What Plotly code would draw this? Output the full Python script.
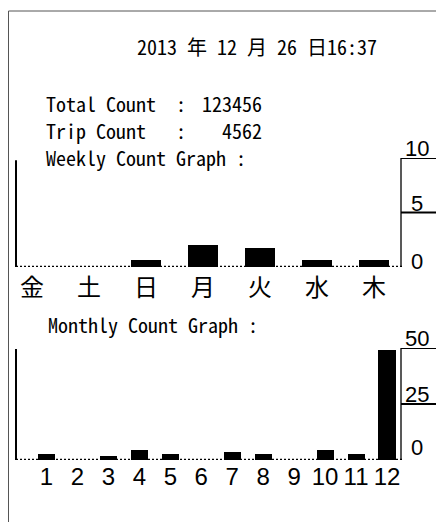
import plotly.graph_objects as go

# ---- data ----
weekdays = ["金", "土", "日", "月", "火", "水", "木"]
weekly_counts = [0, 0, 0.6, 2.0, 1.7, 0.6, 0.6]
weekly_ticks = [10, 5, 0]

months = list(range(1, 13))
month_labels = [str(m) for m in months]
monthly_counts = [2.7, 0, 1.8, 4.5, 2.7, 0, 3.6, 2.7, 0, 4.5, 2.7, 49]
monthly_ticks = [50, 25, 0]

header_date = "2013 年 12 月 26 日16:37"
info_lines = [
    ("Total Count  :", "123456"),
    ("Trip Count   :", "4562"),
]
weekly_title = "Weekly Count Graph :"
monthly_title = "Monthly Count Graph :"

# ---- page geometry (pixels) ----
W, H = 436, 522


def px(x):
    return x / W


def py(y):
    return 1 - y / H


MONO = "Noto Sans Mono CJK JP, DejaVu Sans Mono, monospace"
CJK = "Noto Sans CJK JP, sans-serif"
SANS = "Liberation Sans, Arial, sans-serif"

AX_L, AX_R = 16, 401

fig = go.Figure()
fig.add_trace(go.Bar(x=weekdays, y=weekly_counts, width=0.526,
                     marker=dict(color="black", line=dict(width=0)),
                     xaxis="x", yaxis="y", hoverinfo="skip"))
fig.add_trace(go.Bar(x=months, y=monthly_counts, width=0.55,
                     marker=dict(color="black", line=dict(width=0)),
                     xaxis="x2", yaxis="y2", hoverinfo="skip"))

shapes = []
annotations = []

# page frame (left and top edges)
shapes.append(dict(type="line", xref="paper", yref="paper", x0=px(8.5), x1=px(8.5),
                   y0=py(11), y1=0, line=dict(color="#555", width=1)))
shapes.append(dict(type="line", xref="paper", yref="paper", x0=px(8.5), x1=1,
                   y0=py(11), y1=py(11), line=dict(color="#555", width=1)))


def chart_frame(yref, ticks, left_top, label_shift):
    top = ticks[0]
    # left axis
    shapes.append(dict(type="line", xref="paper", yref=yref, x0=px(AX_L), x1=px(AX_L),
                       y0=0, y1=left_top, line=dict(color="black", width=2)))
    # right axis
    shapes.append(dict(type="line", xref="paper", yref=yref, x0=px(AX_R), x1=px(AX_R),
                       y0=0, y1=top, line=dict(color="#222", width=1.5)))
    # dotted baseline
    shapes.append(dict(type="line", xref="paper", yref=yref, x0=px(AX_L), x1=px(AX_R + 1),
                       y0=0, y1=0, layer="above",
                       line=dict(color="black", width=2.5, dash="2px,2px")))
    for t in ticks:
        if t != 0:
            shapes.append(dict(type="line", xref="paper", yref=yref, x0=px(AX_R), x1=1,
                               y0=t, y1=t, line=dict(color="black", width=2)))
        annotations.append(dict(text=str(t), xref="paper", yref=yref, x=px(417), y=t,
                                xanchor="center", yanchor="bottom", showarrow=False,
                                yshift=label_shift.get(t, -5),
                                font=dict(family=SANS, size=22, color="black")))


chart_frame("y", weekly_ticks, 9.8, {0: -9})
chart_frame("y2", monthly_ticks, 49.5, {0: -2})

# header texts
text_font = dict(family=MONO, size=20, color="black")
annotations.append(dict(text=header_date, xref="paper", yref="paper", x=px(257), y=py(47),
                        xanchor="center", yanchor="middle", showarrow=False,
                        font=text_font))
for i, (label, value) in enumerate(info_lines):
    yy = py(103 + 27 * i)
    annotations.append(dict(text=label, xref="paper", yref="paper", x=px(44), y=yy,
                            xanchor="left", yanchor="middle", showarrow=False,
                            font=text_font))
    annotations.append(dict(text=value, xref="paper", yref="paper", x=px(264), y=yy,
                            xanchor="right", yanchor="middle", showarrow=False,
                            font=text_font))
annotations.append(dict(text=weekly_title, xref="paper", yref="paper", x=px(44), y=py(157),
                        xanchor="left", yanchor="middle", showarrow=False,
                        font=text_font))
annotations.append(dict(text=monthly_title, xref="paper", yref="paper", x=px(46), y=py(324),
                        xanchor="left", yanchor="middle", showarrow=False,
                        font=text_font))

fig.update_layout(
    width=W, height=H,
    margin=dict(l=0, r=0, t=0, b=0),
    paper_bgcolor="white", plot_bgcolor="white",
    showlegend=False,
    bargap=0,
    xaxis=dict(domain=[px(AX_L), px(AX_R)], range=[-0.281, 6.473], anchor="y",
               type="category", showgrid=False, zeroline=False, showline=False,
               ticks="", ticklabelstandoff=4,
               tickfont=dict(family=CJK, size=24, color="black"),
               fixedrange=True),
    yaxis=dict(domain=[py(267), py(158)], range=[0, 10], anchor="x",
               visible=False, fixedrange=True),
    xaxis2=dict(domain=[px(AX_L), px(AX_R)], range=[0.016, 12.452], anchor="y2",
                tickmode="array", tickvals=months, ticktext=month_labels,
                showgrid=False, zeroline=False, showline=False, ticks="",
                tickfont=dict(family=SANS, size=24, color="black"), fixedrange=True),
    yaxis2=dict(domain=[py(460), py(348)], range=[0, 50], anchor="x2",
                visible=False, fixedrange=True),
    shapes=shapes,
    annotations=annotations,
)

fig.write_html("out.html", config={"displayModeBar": False})
